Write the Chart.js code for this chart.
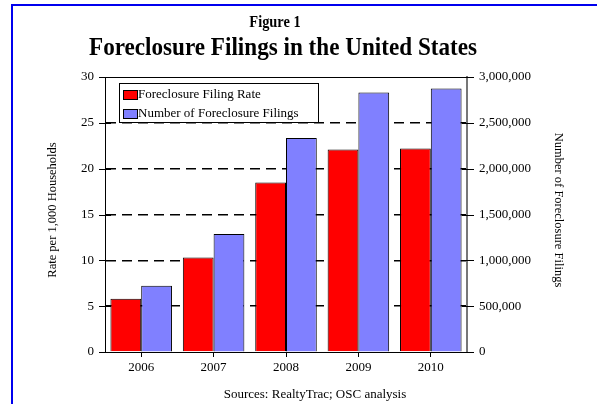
<!DOCTYPE html>
<html>
<head>
<meta charset="utf-8">
<title>Foreclosure Filings in the United States</title>
<script src="https://cdn.jsdelivr.net/npm/chart.js@4"></script>
<style>
  html, body { margin: 0; padding: 0; background: #fff; }
  #chart { display: block; }
</style>
</head>
<body>
<canvas id="chart" width="597" height="404"></canvas>
<script>
/* ---------- data ---------- */
var YEARS = ["2006", "2007", "2008", "2009", "2010"];
var FILING_RATE = [5.8, 10.3, 18.5, 22.1, 22.2];          // per 1,000 households
var FILINGS = [723000, 1288000, 2335000, 2830000, 2875000]; // number of filings
var RATE_TICKS = [0, 5, 10, 15, 20, 25, 30];
var COUNT_TICKS = [0, 500000, 1000000, 1500000, 2000000, 2500000, 3000000];

var SERIF = '"Liberation Serif", "Times New Roman", serif';

Chart.defaults.font.family = SERIF;
Chart.defaults.font.size = 13;
Chart.defaults.color = "#000";

/* ---------- decorations: frame, titles, legend, tick marks ---------- */
var decor = {
  id: "decor",
  beforeDraw: function (chart) {
    var c = chart.ctx;
    c.save();
    c.fillStyle = "#fff";
    c.fillRect(0, 0, chart.width, chart.height);
    // blue frame (top + left)
    c.strokeStyle = "#0000ee";
    c.lineWidth = 2;
    c.beginPath();
    c.moveTo(12, chart.height);
    c.lineTo(12, 5);
    c.lineTo(chart.width, 5);
    c.stroke();
    c.restore();
  },
  afterDraw: function (chart) {
    var c = chart.ctx;
    var area = chart.chartArea;
    var y = chart.scales.y, y1 = chart.scales.y1;
    c.save();

    // top line at 30
    c.strokeStyle = "#000";
    c.lineWidth = 1;
    c.beginPath();
    c.moveTo(area.left, Math.round(y.getPixelForValue(30)) + 0.5);
    c.lineTo(area.right, Math.round(y.getPixelForValue(30)) + 0.5);
    c.stroke();

    // tick marks crossing the axes
    RATE_TICKS.forEach(function (v) {
      var py = Math.round(y.getPixelForValue(v)) + 0.5;
      c.beginPath(); c.moveTo(area.left - 6, py); c.lineTo(area.left + 6, py); c.stroke();
    });
    COUNT_TICKS.forEach(function (v) {
      var py = Math.round(y1.getPixelForValue(v)) + 0.5;
      c.beginPath(); c.moveTo(area.right - 5, py); c.lineTo(area.right + 7, py); c.stroke();
    });

    // titles (slightly condensed, like the original)
    c.fillStyle = "#000";
    c.textAlign = "center";
    c.textBaseline = "middle";
    c.save();
    c.translate(275, 23);
    c.scale(0.9, 1);
    c.font = "bold 16px " + SERIF;
    c.fillText("Figure 1", 0, 0);
    c.restore();
    c.save();
    c.translate(283, 48);
    c.scale(0.89, 1);
    c.font = "bold 26px " + SERIF;
    c.fillText("Foreclosure Filings in the United States", 0, 0);
    c.restore();

    // axis titles
    c.font = "12.5px " + SERIF;
    c.save();
    c.translate(53, 210);
    c.rotate(-Math.PI / 2);
    c.fillText("Rate per 1,000 Households", 0, 0);
    c.restore();
    c.save();
    c.translate(558, 210);
    c.rotate(Math.PI / 2);
    c.fillText("Number of Foreclosure Filings", 0, 0);
    c.restore();

    // sources
    c.font = "13px " + SERIF;
    c.fillText("Sources: RealtyTrac; OSC analysis", 315, 395);

    // legend box
    c.fillStyle = "#fff";
    c.fillRect(119, 83, 199, 39);
    c.strokeStyle = "#000";
    c.lineWidth = 1;
    c.strokeRect(119.5, 83.5, 199, 39);
    c.textAlign = "left";
    c.font = "13px " + SERIF;
    chart.data.datasets.forEach(function (ds, i) {
      var cy = 94 + i * 19;
      c.fillStyle = ds.backgroundColor;
      c.fillRect(123, cy - 4, 14, 9);
      c.strokeRect(123.5, cy - 3.5, 14, 9);
      c.fillStyle = "#000";
      c.fillText(ds.label, 138, cy + 1);
    });

    c.restore();
  }
};

/* ---------- chart ---------- */
new Chart(document.getElementById("chart"), {
  type: "bar",
  data: {
    labels: YEARS,
    datasets: [{
      label: "Foreclosure Filing Rate",
      data: FILING_RATE,
      yAxisID: "y",
      backgroundColor: "#ff0000",
      borderColor: "#000",
      borderWidth: 1
    }, {
      label: "Number of Foreclosure Filings",
      data: FILINGS,
      yAxisID: "y1",
      backgroundColor: "#8080ff",
      borderColor: "#000",
      borderWidth: 1
    }]
  },
  options: {
    responsive: false,
    animation: false,
    devicePixelRatio: 1,
    categoryPercentage: 0.85,
    barPercentage: 1.0,
    layout: { padding: { top: 77, left: 0, right: 0, bottom: 0 } },
    plugins: {
      legend: { display: false },
      title: { display: false },
      tooltip: { enabled: false }
    },
    scales: {
      x: {
        grid: { display: true, drawOnChartArea: false, drawTicks: true, tickLength: 5, offset: false, tickColor: "#000" },
        border: { display: true, color: "#000", width: 1 },
        ticks: { padding: 3, font: { size: 13 } },
        afterFit: function (s) { s.height = 52; }
      },
      y: {
        position: "left",
        min: 0, max: 30,
        ticks: { stepSize: 5, padding: 11, font: { size: 13 } },
        grid: {
          drawTicks: false,
          lineWidth: 1.5,
          color: function (ctx) {
            var v = ctx.tick && ctx.tick.value;
            return (v === 0 || v === 30) ? "rgba(0,0,0,0)" : "#000";
          }
        },
        border: { display: true, color: "#000", width: 1, dash: [10, 6] },
        afterFit: function (s) { s.width = 105; }
      },
      y1: {
        position: "right",
        min: 0, max: 3000000,
        ticks: {
          stepSize: 500000, padding: 12, font: { size: 13 },
          callback: function (v) { return v.toLocaleString("en-US"); }
        },
        grid: { drawOnChartArea: false, drawTicks: false },
        border: { display: true, color: "#777", width: 2 },
        afterFit: function (s) { s.width = 130; }
      }
    }
  },
  plugins: [decor]
});
</script>
</body>
</html>
